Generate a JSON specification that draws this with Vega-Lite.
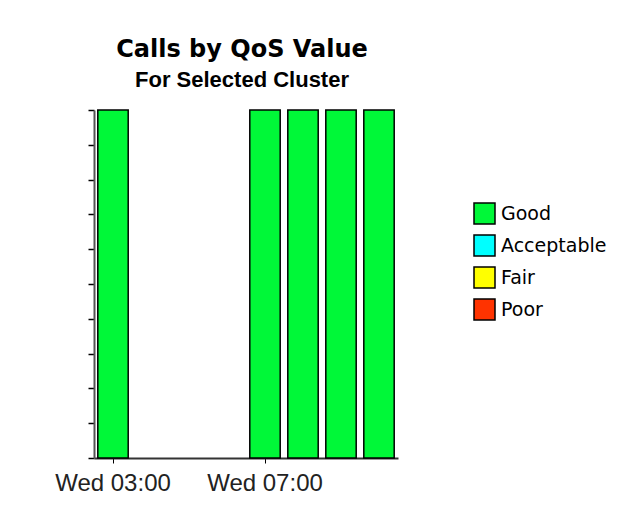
{
  "$schema": "https://vega.github.io/schema/vega-lite/v6.json",
  "autosize": "none",
  "width": 304,
  "height": 348,
  "padding": {"left": 94, "top": 110, "right": 233, "bottom": 56},
  "background": "white",
  "title": {
    "text": "Calls by QoS Value",
    "subtitle": "For Selected Cluster",
    "anchor": "middle",
    "dx": -4,
    "font": "DejaVu Sans",
    "fontSize": 24,
    "fontWeight": "bold",
    "color": "black",
    "subtitleFont": "Liberation Sans",
    "subtitleFontSize": 22,
    "subtitleFontWeight": "bold",
    "subtitleColor": "black",
    "subtitlePadding": 8,
    "offset": 18
  },
  "data": {
    "values": [
      {"time": "Wed 03:00", "qos": "Good", "percent": 100},
      {"time": "Wed 07:00", "qos": "Good", "percent": 100},
      {"time": "Wed 08:00", "qos": "Good", "percent": 100},
      {"time": "Wed 09:00", "qos": "Good", "percent": 100},
      {"time": "Wed 10:00", "qos": "Good", "percent": 100}
    ]
  },
  "mark": {"type": "bar", "stroke": "black", "strokeWidth": 1.5},
  "encoding": {
    "x": {
      "field": "time",
      "type": "ordinal",
      "scale": {
        "domain": ["Wed 03:00", "Wed 04:00", "Wed 05:00", "Wed 06:00", "Wed 07:00", "Wed 08:00", "Wed 09:00", "Wed 10:00"],
        "paddingInner": 0.2,
        "paddingOuter": 0.1
      },
      "axis": {
        "title": null,
        "values": ["Wed 03:00", "Wed 07:00"],
        "labelAngle": 0,
        "labelFont": "Liberation Sans",
        "labelFontSize": 24,
        "labelColor": "#222",
        "labelPadding": 8,
        "tickSize": 5,
        "tickColor": "black",
        "tickWidth": 1,
        "domainColor": "#333",
        "domainWidth": 2,
        "grid": false
      }
    },
    "y": {
      "field": "percent",
      "type": "quantitative",
      "stack": "zero",
      "scale": {"domain": [0, 100], "nice": false},
      "axis": {
        "title": null,
        "labels": false,
        "values": [0, 10, 20, 30, 40, 50, 60, 70, 80, 90, 100],
        "tickSize": 6,
        "tickColor": "black",
        "tickWidth": 1.5,
        "domainColor": "#555",
        "domainWidth": 2,
        "grid": false
      }
    },
    "color": {
      "field": "qos",
      "type": "nominal",
      "scale": {
        "domain": ["Good", "Acceptable", "Fair", "Poor"],
        "range": ["#00F838", "#00FFFF", "#FFFF00", "#FF3300"]
      },
      "legend": {
        "title": null,
        "orient": "none",
        "legendX": 379,
        "legendY": 92,
        "padding": 0,
        "symbolType": "square",
        "symbolSize": 441,
        "symbolStrokeColor": "black",
        "symbolStrokeWidth": 1.5,
        "symbolOpacity": 1,
        "labelFont": "DejaVu Sans",
        "labelFontSize": 19,
        "labelColor": "black",
        "labelOffset": 5,
        "rowPadding": 5
      }
    }
  },
  "config": {
    "view": {"stroke": null}
  }
}
